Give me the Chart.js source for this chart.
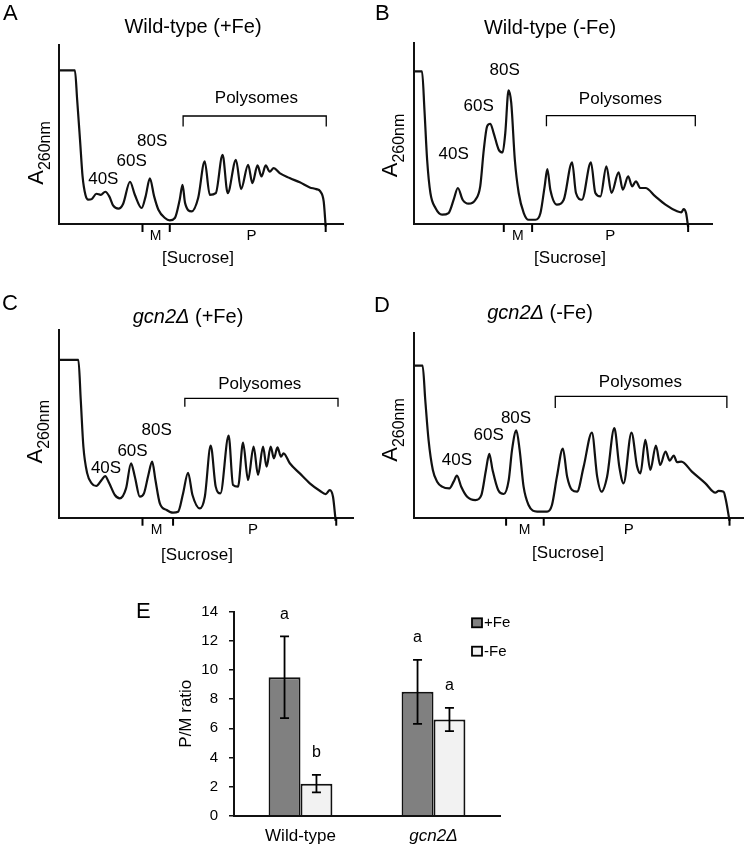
<!DOCTYPE html>
<html>
<head>
<meta charset="utf-8">
<script src="https://cdn.jsdelivr.net/npm/chart.js@4/dist/chart.umd.min.js"></script>
<style>
  html, body { margin: 0; padding: 0; background: #fff; }
  #fig { position: relative; width: 745px; height: 846px; overflow: hidden; }
  #fig canvas { position: absolute; }
</style>
</head>
<body>
<div id="fig">
  <canvas id="panelA"></canvas>
  <canvas id="panelB"></canvas>
  <canvas id="panelC"></canvas>
  <canvas id="panelD"></canvas>
  <canvas id="panelE"></canvas>
</div>
<script>
// gradient position (0-100, top -> bottom of tube) and A260 trace (arbitrary units)
const posA = [0, 5.6, 6.4, 7.4, 8.3, 9.3, 10.3, 11.5, 13.2, 14.7, 16.3, 17.7, 19.1, 20.9, 22.6, 25, 26.7, 29.1, 30.5, 32, 33.5, 35, 37.3, 39, 40.8, 42.5, 43.5, 44.4, 46.7, 49, 51.3, 53.1, 55.2, 57.6, 59.4, 62.3, 64.1, 66.6, 68.1, 69.9, 71.3, 72.8, 74.2, 75.6, 77.7, 81.2, 84.8, 88.3, 90.6, 92, 93.2, 93.9];
const absA = [100, 100, 80.7, 54.8, 31, 19, 15.8, 16.2, 19.7, 19, 21, 18, 11.9, 10, 13.2, 27.5, 19, 10.4, 18, 29.7, 18, 9.3, 3.9, 2.4, 3.9, 15.8, 25.5, 13.6, 8.2, 16.9, 40.7, 19, 20.1, 45, 20.1, 41.8, 22.7, 38.5, 26.6, 38.1, 31, 38.1, 34, 36.4, 33.1, 29.9, 27.1, 23.8, 22.7, 21.2, 14.7, -1.5];

const posB = [0, 2.8, 3.6, 4.5, 5.6, 7.3, 9.5, 11.7, 13.4, 14.8, 16.4, 18.4, 20.7, 22.3, 23.5, 24.6, 25.7, 26.8, 28.5, 29.8, 30.7, 31.8, 32.7, 33.9, 35.2, 36.9, 38.5, 40.8, 42.5, 43.9, 44.8, 45.8, 48, 50.3, 53.1, 54.4, 56.4, 59.4, 60.9, 62.6, 64.6, 66.3, 68.7, 70.1, 71.9, 73.2, 74.5, 76, 77.7, 81, 84.4, 88.3, 89.7, 90.5, 91.3, 92];
const absB = [100, 100, 74.9, 42.1, 20.3, 10.5, 6.1, 7.2, 15.9, 23.6, 15.9, 13.3, 15.9, 24.7, 48.7, 64, 65.7, 59.6, 48.7, 46.9, 59.6, 87.6, 79.3, 42.1, 20.3, 7.2, 2.8, 2.8, 7.2, 24.7, 36, 22.5, 12.7, 15.9, 40.4, 20.3, 15.9, 40.4, 20.3, 18.1, 37.8, 20.3, 33.8, 22.5, 31.2, 24.7, 27.9, 23.6, 23.6, 18.1, 12.7, 8.3, 7.6, 9.8, 7.2, -2];

const posC = [0, 6.6, 7.4, 8.3, 9.6, 11.1, 12.7, 14.5, 15.7, 17.1, 19, 20.7, 22.8, 24.5, 25.8, 27.5, 28.9, 30.4, 31.7, 32.8, 34.3, 36.6, 38.8, 40.5, 42.2, 43.9, 45.4, 47.9, 49.6, 51.6, 53.3, 54.9, 57.7, 59.2, 60.9, 62.6, 64.3, 66.2, 67.7, 69.4, 70.6, 72, 73.1, 74.3, 75.5, 76.4, 78.5, 81.9, 85.3, 88.7, 90.7, 92.1, 93.2, 94.1];
const absC = [100, 100, 74.6, 45, 28.1, 21.8, 20.1, 23.9, 26.4, 21.8, 14.4, 12.3, 18.6, 34.5, 26, 13.3, 15.4, 27.1, 35.5, 23.9, 9.1, 4.9, 3.2, 3.8, 15.4, 28.5, 14.4, 5.9, 13.3, 45.7, 19.7, 15.4, 52, 20.7, 19.7, 47.6, 23.9, 45, 27.1, 45, 32.3, 45, 37.6, 44.6, 38.7, 40.8, 34.5, 28.1, 21.8, 17.1, 15, 17.5, 13.3, -2];

const posD = [0, 2.7, 3.5, 4.5, 5.8, 7.1, 8.6, 10.8, 12.1, 13.1, 14.4, 16.2, 18.7, 20.5, 21.9, 22.9, 23.9, 25.6, 27.3, 28.8, 29.8, 31.1, 32.1, 33.3, 34.8, 37.4, 40.4, 41.9, 43.4, 45.2, 46.5, 48, 49.5, 51.5, 54, 55.6, 56.9, 58.6, 60.8, 62.3, 63.6, 66, 67.7, 68.7, 70.2, 71.7, 73.4, 74.7, 76.3, 77.6, 78.8, 79.8, 81.1, 84.3, 88.4, 91.4, 92.4, 93.9, 94.6, 95.7];
const absD = [100, 100, 77.6, 51.2, 31.4, 23.7, 20.4, 19.3, 23.7, 27.7, 20.4, 13.8, 11.6, 14.9, 31.4, 42, 31.4, 18.2, 15.6, 24.8, 44.6, 57.4, 44.6, 20.4, 8.4, 4, 4, 8.4, 27, 45.5, 27, 18.2, 17.1, 33.6, 56, 27, 17.1, 27, 58.9, 33.6, 22.6, 56, 33.6, 29.2, 51.2, 31.4, 47.5, 34.7, 43.5, 37.6, 40.9, 36.5, 36.9, 30.3, 22.6, 16.5, 17.6, 17.1, 11.6, -2];

// panel E: P/M ratio
const strains = ['Wild-type', 'gcn2Δ'];
const pmPlusFe = [9.5, 8.5];
const pmMinusFe = [2.2, 6.6];
const sdPlusFe = [2.8, 2.2];
const sdMinusFe = [0.6, 0.8];
const sigPlusFe = ['a', 'a'];
const sigMinusFe = ['b', 'a'];

const FONT = "'Liberation Sans', Arial, Helvetica, sans-serif";
const INK = '#000';

const panels = {
    A: { left: 0, top: 0, w: 372, h: 285, pad: { left: 59, top: 45, right: 29, bottom: 61 }, yMax: 116.5,
         letter: 'A', letterAt: [3, 20], title: [['Wild-type (+Fe)', false]], titleAt: [193, 27],
         yLabelAt: [43.3, 153], sucroseAt: [198, 258],
         cuts: [29.4, 39, 93.9], mX: 34, pX: 67.8,
         bracket: [43.7, 94.1, 70.3, 63.4], polyAt: [69.5, 81.8],
         peaks: [['40S', 15.6, 28.8], ['60S', 25.6, 40.7], ['80S', 32.8, 53.7]] },
    B: { left: 372, top: 0, w: 373, h: 285, pad: { left: 41.7, top: 43, right: 33, bottom: 61 }, yMax: 118.6,
         letter: 'B', letterAt: [3, 20], title: [['Wild-type (-Fe)', false]], titleAt: [178, 28],
         yLabelAt: [25, 145.5], sucroseAt: [198, 258],
         cuts: [30.2, 39.7, 92], mX: 34.9, pX: 65.9,
         bracket: [44.5, 94.4, 71, 64], polyAt: [69.3, 81.4],
         peaks: [['40S', 13.4, 45.4], ['60S', 21.8, 77], ['80S', 30.5, 101]] },
    C: { left: 0, top: 285, w: 372, h: 290, pad: { left: 59, top: 45, right: 19, bottom: 57.3 }, yMax: 119,
         letter: 'C', letterAt: [2, 25], title: [['gcn2Δ', true], [' (+Fe)', false]], titleAt: [188, 32],
         yLabelAt: [41.7, 146.7], sucroseAt: [197, 270],
         cuts: [28.4, 38.8, 94.3], mX: 33.2, pX: 66,
         bracket: [42.8, 94.9, 75.7, 70.4], polyAt: [68.3, 84.6],
         peaks: [['40S', 16, 31.3], ['60S', 25, 41.9], ['80S', 33.2, 55.2]] },
    D: { left: 372, top: 285, w: 373, h: 290, pad: { left: 41.7, top: 48, right: 1.3, bottom: 57.3 }, yMax: 121.5,
         letter: 'D', letterAt: [2, 27], title: [['gcn2Δ', true], [' (-Fe)', false]], titleAt: [168, 28.3],
         yLabelAt: [25, 145], sucroseAt: [196, 268.3],
         cuts: [28, 39.4, 95.7], mX: 33.6, pX: 65.2,
         bracket: [42.9, 94.9, 79.8, 72.1], polyAt: [68.7, 89],
         peaks: [['40S', 13.1, 38], ['60S', 22.7, 54.5], ['80S', 31, 65.5]] }
};

function font(size, italic) {
    return (italic ? 'italic ' : '') + size + 'px ' + FONT;
}

function placeCanvas(id, p) {
    const c = document.getElementById(id);
    c.width = p.w;
    c.height = p.h;
    c.style.left = p.left + 'px';
    c.style.top = p.top + 'px';
    return c;
}

// labels, fraction ticks and polysome bracket
function profileDecor(p) {
    return {
        id: 'profileDecor',
        afterDraw(chart) {
            const { ctx, chartArea: a, scales: { x, y } } = chart;
            ctx.save();
            ctx.fillStyle = INK;
            ctx.strokeStyle = INK;

            ctx.lineWidth = 2;
            p.cuts.forEach(v => {
                const px = x.getPixelForValue(v);
                ctx.beginPath();
                ctx.moveTo(px, a.bottom);
                ctx.lineTo(px, a.bottom + 8);
                ctx.stroke();
            });

            const [b0, b1, bTop, bFoot] = p.bracket;
            ctx.lineWidth = 1.3;
            ctx.beginPath();
            ctx.moveTo(x.getPixelForValue(b0), y.getPixelForValue(bFoot));
            ctx.lineTo(x.getPixelForValue(b0), y.getPixelForValue(bTop));
            ctx.lineTo(x.getPixelForValue(b1), y.getPixelForValue(bTop));
            ctx.lineTo(x.getPixelForValue(b1), y.getPixelForValue(bFoot));
            ctx.stroke();

            ctx.textAlign = 'center';
            ctx.textBaseline = 'middle';
            ctx.font = font(17);
            ctx.fillText('Polysomes', x.getPixelForValue(p.polyAt[0]), y.getPixelForValue(p.polyAt[1]));
            p.peaks.forEach(([t, px, py]) => ctx.fillText(t, x.getPixelForValue(px), y.getPixelForValue(py)));

            ctx.font = font(14);
            ctx.fillText('M', x.getPixelForValue(p.mX), a.bottom + 12);
            ctx.font = font(15);
            ctx.fillText('P', x.getPixelForValue(p.pX), a.bottom + 12);

            ctx.font = font(17);
            ctx.fillText('[Sucrose]', p.sucroseAt[0], p.sucroseAt[1]);

            // title, possibly with italic strain name
            let total = 0;
            p.title.forEach(([t, it]) => { ctx.font = font(20, it); total += ctx.measureText(t).width; });
            let tx = p.titleAt[0] - total / 2;
            ctx.textAlign = 'left';
            p.title.forEach(([t, it]) => {
                ctx.font = font(20, it);
                ctx.fillText(t, tx, p.titleAt[1]);
                tx += ctx.measureText(t).width;
            });

            ctx.textBaseline = 'alphabetic';
            ctx.font = font(22);
            ctx.fillText(p.letter, p.letterAt[0], p.letterAt[1]);

            // A260nm, rotated
            ctx.save();
            ctx.translate(p.yLabelAt[0], p.yLabelAt[1]);
            ctx.rotate(-Math.PI / 2);
            ctx.font = font(22);
            const wA = ctx.measureText('A').width;
            ctx.font = font(16);
            const wS = ctx.measureText('260nm').width;
            const start = -(wA + wS) / 2;
            ctx.font = font(22);
            ctx.fillText('A', start, 0);
            ctx.font = font(16);
            ctx.fillText('260nm', start + wA, 7);
            ctx.restore();

            ctx.restore();
        }
    };
}

function profileChart(id, p, xs, ys) {
    const canvas = placeCanvas(id, p);
    return new Chart(canvas, {
        type: 'line',
        data: {
            datasets: [{
                data: xs.map((v, i) => ({ x: v, y: ys[i] })),
                borderColor: '#111',
                borderWidth: 2.2,
                pointRadius: 0,
                cubicInterpolationMode: 'monotone',
                clip: false
            }]
        },
        options: {
            responsive: false,
            animation: false,
            layout: { padding: p.pad },
            plugins: { legend: { display: false }, tooltip: { enabled: false } },
            scales: {
                x: {
                    type: 'linear', min: 0, max: 100,
                    ticks: { display: false },
                    grid: { display: false },
                    border: { color: '#111', width: 2 },
                    afterFit: s => { s.height = 0; }
                },
                y: {
                    min: 0, max: p.yMax,
                    ticks: { display: false },
                    grid: { display: false },
                    border: { color: '#111', width: 2 },
                    afterFit: s => { s.width = 0; }
                }
            }
        },
        plugins: [profileDecor(p)]
    });
}

profileChart('panelA', panels.A, posA, absA);
profileChart('panelB', panels.B, posB, absB);
profileChart('panelC', panels.C, posC, absC);
profileChart('panelD', panels.D, posD, absD);

// Bar chart
const boxE = { left: 130, top: 585, w: 615, h: 261 };

const barDecor = {
    id: 'barDecor',
    afterDatasetsDraw(chart) {
        const { ctx, scales: { y } } = chart;
        ctx.save();
        ctx.strokeStyle = INK;
        ctx.fillStyle = INK;
        ctx.lineWidth = 1.8;
        ctx.textAlign = 'center';
        ctx.textBaseline = 'middle';
        ctx.font = font(16);
        chart.data.datasets.forEach((ds, di) => {
            chart.getDatasetMeta(di).data.forEach((bar, i) => {
                const hi = y.getPixelForValue(ds.data[i] + ds.sd[i]);
                const lo = y.getPixelForValue(ds.data[i] - ds.sd[i]);
                ctx.beginPath();
                ctx.moveTo(bar.x, hi); ctx.lineTo(bar.x, lo);
                ctx.moveTo(bar.x - 4.5, hi); ctx.lineTo(bar.x + 4.5, hi);
                ctx.moveTo(bar.x - 4.5, lo); ctx.lineTo(bar.x + 4.5, lo);
                ctx.stroke();
                ctx.fillText(ds.sig[i], bar.x, hi - 22);
            });
        });
        ctx.restore();
    },
    afterDraw(chart) {
        const { ctx } = chart;
        ctx.save();
        ctx.fillStyle = INK;
        ctx.font = font(22);
        ctx.textBaseline = 'alphabetic';
        ctx.fillText('E', 6, 33);

        ctx.font = font(15);
        ctx.textBaseline = 'middle';
        chart.data.datasets.forEach((ds, di) => {
            const bx = 342, by = 33.3 + di * 28.4;
            ctx.fillStyle = ds.backgroundColor;
            ctx.fillRect(bx, by, 10, 9);
            ctx.strokeStyle = INK;
            ctx.lineWidth = 1.8;
            ctx.strokeRect(bx, by, 10, 9);
            ctx.fillStyle = INK;
            ctx.fillText(ds.label, bx + 12, by + 5);
        });
        ctx.restore();
    }
};

new Chart(placeCanvas('panelE', boxE), {
    type: 'bar',
    data: {
        labels: strains,
        datasets: [
            { label: '+Fe', data: pmPlusFe, sd: sdPlusFe, sig: sigPlusFe, backgroundColor: '#808080', borderColor: '#111', borderWidth: 2 },
            { label: '-Fe', data: pmMinusFe, sd: sdMinusFe, sig: sigMinusFe, backgroundColor: '#f2f2f2', borderColor: '#111', borderWidth: 2 }
        ]
    },
    options: {
        responsive: false,
        animation: false,
        layout: { padding: { left: 42.5, top: 26.7, right: 245, bottom: 0 } },
        datasets: { bar: { categoryPercentage: 0.48, barPercentage: 1 } },
        plugins: { legend: { display: false }, tooltip: { enabled: false } },
        scales: {
            x: {
                grid: { display: false, drawTicks: false },
                border: { color: '#111', width: 2 },
                ticks: {
                    color: INK, padding: 10.8,
                    font: c => ({ family: FONT, size: 17, style: c.index === 1 ? 'italic' : 'normal' })
                },
                afterFit: s => { s.height = 30.3; }
            },
            y: {
                min: 0, max: 14,
                ticks: { stepSize: 2, color: INK, padding: 11, font: { family: FONT, size: 15 } },
                grid: { drawOnChartArea: false, tickLength: 5, color: '#111', lineWidth: 1.5 },
                border: { color: '#111', width: 2 },
                title: { display: true, text: 'P/M ratio', color: INK, font: { family: FONT, size: 17 }, padding: { top: 4, bottom: 4 } },
                afterFit: s => { s.width = 61.5; }
            }
        }
    },
    plugins: [barDecor]
});
</script>
</body>
</html>
